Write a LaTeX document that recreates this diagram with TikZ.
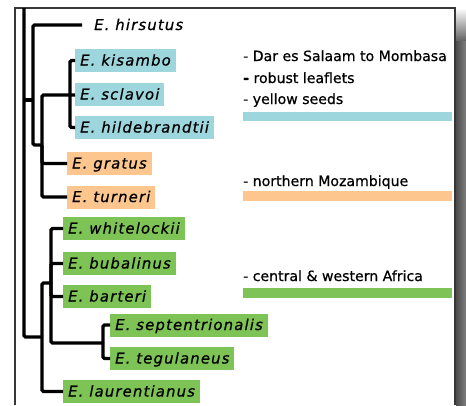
\documentclass[tikz,border=0pt]{standalone}
\usepackage{fontspec}
\setmainfont{DejaVu Sans}[FakeBold=0.7]
\newfontfamily\taxonfont{DejaVu Sans}[LetterSpace=8, FakeBold=0.7]

\definecolor{coastblue}{RGB}{158,214,222}
\definecolor{mozorange}{RGB}{252,198,142}
\definecolor{africagreen}{RGB}{126,195,86}
\definecolor{framegray}{RGB}{55,55,55}

\begin{document}
\begin{tikzpicture}[x=1pt, y=-1pt,
    taxon/.style = {rectangle, anchor=west, inner xsep=5pt, inner ysep=0pt,
                    minimum height=23pt, text height=12pt, text depth=2pt,
                    font=\taxonfont\itshape\fontsize{14.8pt}{17pt}\selectfont},
    branch/.style = {line width=3.2pt, rounded corners=1.5pt},
    note/.style = {anchor=base west, inner sep=0pt, font=\fontsize{14.1pt}{17pt}\selectfont}]
  \useasboundingbox (0, 0) rectangle (466, 405);

  % Frame.
  \shade [left color=black!70, right color=black!50] (456, 8) rectangle (466, 405);
  \shade [top color=white, bottom color=black!60] (456, 8) rectangle (466, 40);
  \draw [framegray, line width=1.5pt] (15, 405) -- (15, 8) -- (455, 8) -- (455, 405);

  % Taxa.
  \node at (82, 25) [taxon, inner xsep=12pt, name=Hirsutus] {E. hirsutus};
  \node at (75, 60.5) [taxon, fill=coastblue, name=Kisambo] {E. kisambo};
  \node at (75, 94.5) [taxon, fill=coastblue, name=Sclavoi] {E. sclavoi};
  \node at (75, 127.5) [taxon, fill=coastblue, name=Hildebrandtii] {E. hildebrandtii};
  \node at (67, 163.5) [taxon, fill=mozorange, name=Gratus] {E. gratus};
  \node at (67, 197) [taxon, fill=mozorange, name=Turneri] {E. turneri};
  \node at (63, 228.5) [taxon, fill=africagreen, name=Whitelockii] {E. whitelockii};
  \node at (63, 263.5) [taxon, fill=africagreen, name=Bubalinus] {E. bubalinus};
  \node at (63, 296.5) [taxon, fill=africagreen, name=Barteri] {E. barteri};
  \node at (110, 325) [taxon, fill=africagreen, name=Septentrionalis] {E. septentrionalis};
  \node at (110, 358.5) [taxon, fill=africagreen, name=Tegulaneus] {E. tegulaneus};
  \node at (63, 391.5) [taxon, fill=africagreen, name=Laurentianus] {E. laurentianus};

  % Clade junctions.
  \coordinate (Root) at (24, 8);
  \coordinate (CladeHirsutus) at (33, 100);
  \coordinate (CladeEast) at (42, 145);
  \coordinate (CladeCoast) at (70, 95);
  \coordinate (CladeWest) at (42, 337);
  \coordinate (CladeBarteri) at (51, 283);
  \coordinate (CladeNorth) at (103, 343);

  % Branches.
  \draw [branch] (Root)
                 |- (CladeWest);
  \draw [branch] (Root |- CladeHirsutus)
                 -- (CladeHirsutus);
  \draw [branch] (CladeHirsutus)
                 |- (Hirsutus);
  \draw [branch] (CladeHirsutus)
                 |- (CladeEast);
  \draw [branch] (CladeEast)
                 |- (CladeCoast);
  \draw [branch] (CladeEast)
                 |- (Gratus);
  \draw [branch] (CladeEast)
                 |- (Turneri);
  \draw [branch] (CladeCoast)
                 |- (Kisambo);
  \draw [branch] (CladeCoast)
                 -- (Sclavoi);
  \draw [branch] (CladeCoast)
                 |- (Hildebrandtii);
  \draw [branch] (CladeWest)
                 |- (CladeBarteri);
  \draw [branch] (CladeWest)
                 |- (Laurentianus);
  \draw [branch] (CladeBarteri)
                 |- (Whitelockii);
  \draw [branch] (CladeBarteri)
                 |- (Bubalinus);
  \draw [branch] (CladeBarteri)
                 |- (Barteri);
  \draw [branch] (CladeBarteri)
                 |- (CladeNorth);
  \draw [branch] (CladeNorth)
                 |- (Septentrionalis);
  \draw [branch] (CladeNorth)
                 |- (Tegulaneus);

  % Notes and colour keys.
  \node at (243, 61) [note, name=NoteRange] {- Dar es Salaam to Mombasa};
  \node at (243, 83) [note, name=NoteLeaflets] {\textbf{-} robust leaflets};
  \node at (243, 104) [note, name=NoteSeeds] {- yellow seeds};
  \fill [coastblue] (243, 112) rectangle (452, 121);
  \node at (243, 186) [note, name=NoteMozambique] {- northern Mozambique};
  \fill [mozorange] (243, 191) rectangle (452, 201);
  \node at (243, 281) [note, name=NoteAfrica] {- central \& western Africa};
  \fill [africagreen] (243, 288) rectangle (452, 298);
\end{tikzpicture}
\end{document}
